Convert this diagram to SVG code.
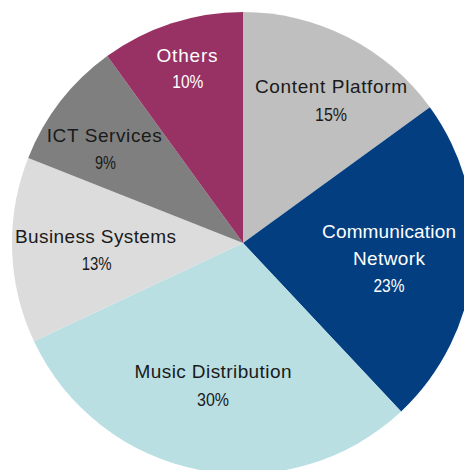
<svg xmlns="http://www.w3.org/2000/svg" width="464" height="470" viewBox="0 0 464 470">
<style>
text{font-family:"Liberation Sans","Noto Sans",Arial,sans-serif;font-size:19px;text-anchor:middle}
.dk{fill:#1a1a1a}
.lt{fill:#ffffff}
</style>
<rect width="464" height="470" fill="#ffffff"/>
<g id="content-platform">
<path d="M243,243 L243,12 A231,231 0 0 1 429.88,107.22 Z" fill="#bfbfbf"/>
<text class="dk" x="331" y="93.3" textLength="152" lengthAdjust="spacing">Content Platform</text>
<text class="dk" x="331" y="120.7" textLength="32" lengthAdjust="spacingAndGlyphs">15%</text>
</g>
<g id="communication-network">
<path d="M243,243 L429.88,107.22 A231,231 0 0 1 401.13,411.39 Z" fill="#023e80"/>
<text class="lt" x="389" y="237.7" textLength="134" lengthAdjust="spacing">Communication</text>
<text class="lt" x="389" y="265" textLength="72" lengthAdjust="spacing">Network</text>
<text class="lt" x="389" y="292.3" textLength="31" lengthAdjust="spacingAndGlyphs">23%</text>
</g>
<g id="music-distribution">
<path d="M243,243 L401.13,411.39 A231,231 0 0 1 33.98,341.36 Z" fill="#b9dfe3"/>
<text class="dk" x="213" y="378.3" textLength="157" lengthAdjust="spacing">Music Distribution</text>
<text class="dk" x="213" y="405.7" textLength="32" lengthAdjust="spacingAndGlyphs">30%</text>
</g>
<g id="business-systems">
<path d="M243,243 L33.98,341.36 A231,231 0 0 1 28.22,157.96 Z" fill="#dcdcdc"/>
<text class="dk" x="95.5" y="243.3" textLength="161" lengthAdjust="spacing">Business Systems</text>
<text class="dk" x="96.7" y="270" textLength="30" lengthAdjust="spacingAndGlyphs">13%</text>
</g>
<g id="ict-services">
<path d="M243,243 L28.22,157.96 A231,231 0 0 1 107.22,56.12 Z" fill="#7f7f7f"/>
<text class="dk" x="104.2" y="141.7" textLength="115" lengthAdjust="spacing">ICT Services</text>
<text class="dk" x="105.5" y="169.3" textLength="21" lengthAdjust="spacingAndGlyphs">9%</text>
</g>
<g id="others">
<path d="M243,243 L107.22,56.12 A231,231 0 0 1 243,12 Z" fill="#983264"/>
<text class="lt" x="187" y="61.7" textLength="61" lengthAdjust="spacing">Others</text>
<text class="lt" x="187.8" y="88.3" textLength="31" lengthAdjust="spacingAndGlyphs">10%</text>
</g>
<g id="connectors"/>
</svg>
